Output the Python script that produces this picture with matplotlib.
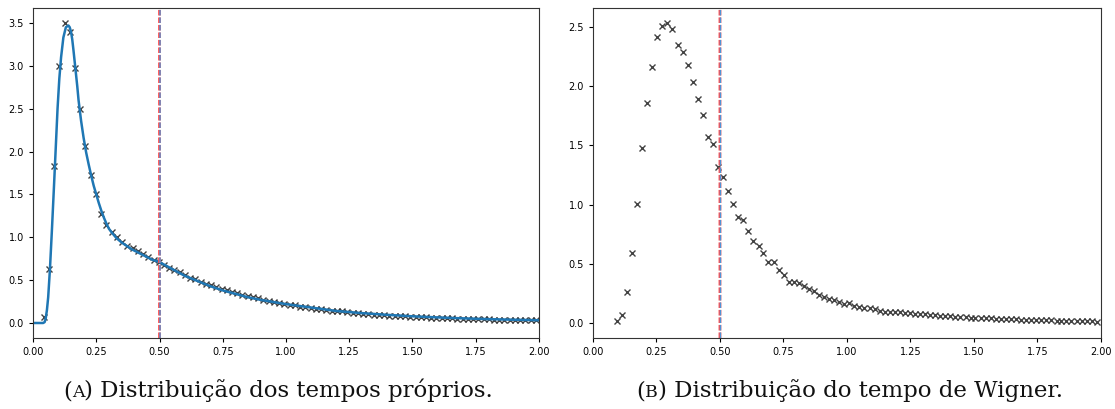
import matplotlib
matplotlib.use("Agg")
import matplotlib.pyplot as plt
import matplotlib.transforms as mtrans

# ---- Panel A: proper times distribution ----
a_x = [0.042, 0.063, 0.083, 0.104, 0.125, 0.145, 0.166, 0.187, 0.207, 0.228,
       0.249, 0.270, 0.290, 0.311, 0.332, 0.352, 0.373, 0.394, 0.414, 0.435,
       0.456, 0.477, 0.497, 0.518, 0.539, 0.559, 0.580, 0.601, 0.621, 0.642,
       0.663, 0.684, 0.704, 0.725, 0.746, 0.766, 0.787, 0.808, 0.828, 0.849,
       0.870, 0.891, 0.911, 0.932, 0.953, 0.973, 0.994, 1.015, 1.035, 1.056,
       1.077, 1.098, 1.118, 1.139, 1.160, 1.180, 1.201, 1.222, 1.242, 1.263,
       1.284, 1.305, 1.325, 1.346, 1.367, 1.387, 1.408, 1.429, 1.449, 1.470,
       1.491, 1.512, 1.532, 1.553, 1.574, 1.594, 1.615, 1.636, 1.656, 1.677,
       1.698, 1.719, 1.739, 1.760, 1.781, 1.801, 1.822, 1.843, 1.863, 1.884,
       1.905, 1.926, 1.946, 1.967, 1.988]
a_y = [0.07, 0.635, 1.83, 3.00, 3.50, 3.39, 2.97, 2.50, 2.07, 1.73,
       1.51, 1.27, 1.14, 1.06, 1.00, 0.95, 0.90, 0.87, 0.84, 0.80,
       0.77, 0.74, 0.71, 0.68, 0.64, 0.62, 0.60, 0.56, 0.53, 0.51,
       0.48, 0.46, 0.44, 0.42, 0.40, 0.38, 0.36, 0.345, 0.33, 0.31,
       0.30, 0.295, 0.27, 0.26, 0.245, 0.235, 0.225, 0.215, 0.205, 0.19,
       0.185, 0.175, 0.165, 0.158, 0.15, 0.143, 0.138, 0.135, 0.125, 0.118,
       0.113, 0.108, 0.104, 0.098, 0.094, 0.09, 0.086, 0.083, 0.079, 0.076,
       0.073, 0.07, 0.067, 0.065, 0.062, 0.06, 0.057, 0.055, 0.053, 0.051,
       0.049, 0.047, 0.046, 0.044, 0.043, 0.041, 0.04, 0.038, 0.037, 0.036,
       0.035, 0.034, 0.033, 0.032, 0.031]

fit_x = [0.0, 0.02, 0.04, 0.046, 0.05, 0.055, 0.06, 0.067, 0.075, 0.083,
         0.09, 0.097, 0.104, 0.111, 0.12, 0.13, 0.14, 0.145, 0.15, 0.155,
         0.16, 0.165, 0.17, 0.175, 0.18, 0.19, 0.20, 0.21, 0.22, 0.23,
         0.24, 0.25, 0.26, 0.27, 0.28, 0.29, 0.30, 0.31, 0.33, 0.35,
         0.37, 0.39, 0.41, 0.43, 0.45, 0.47, 0.50, 0.55, 0.60, 0.65,
         0.70, 0.75, 0.80, 0.85, 0.90, 0.95, 1.00, 1.10, 1.20, 1.30,
         1.40, 1.50, 1.60, 1.70, 1.80, 1.90, 2.00]
fit_y = [0.0, 0.0, 0.0, 0.01, 0.05, 0.15, 0.30, 0.63, 1.10, 1.60,
         2.05, 2.50, 2.85, 3.10, 3.33, 3.45, 3.47, 3.45, 3.40, 3.31,
         3.18, 3.04, 2.90, 2.76, 2.60, 2.36, 2.16, 1.99, 1.85, 1.72,
         1.60, 1.50, 1.40, 1.31, 1.23, 1.16, 1.10, 1.06, 0.99, 0.94,
         0.90, 0.86, 0.83, 0.80, 0.77, 0.74, 0.71, 0.63, 0.55, 0.49,
         0.43, 0.38, 0.34, 0.30, 0.27, 0.245, 0.22, 0.18, 0.14, 0.115,
         0.095, 0.078, 0.065, 0.054, 0.045, 0.038, 0.032]

# ---- Panel B: Wigner time distribution ----
b_x = [0.093, 0.113, 0.134, 0.154, 0.174, 0.194, 0.214, 0.233, 0.253, 0.273,
       0.293, 0.313, 0.333, 0.353, 0.373, 0.393, 0.412, 0.432, 0.452, 0.472,
       0.492, 0.512, 0.532, 0.552, 0.572, 0.592, 0.612, 0.632, 0.652, 0.671,
       0.691, 0.711, 0.731, 0.751, 0.771, 0.791, 0.811, 0.830, 0.850, 0.870,
       0.890, 0.910, 0.930, 0.950, 0.970, 0.990, 1.009, 1.029, 1.049, 1.069,
       1.089, 1.109, 1.129, 1.149, 1.169, 1.188, 1.208, 1.228, 1.248, 1.268,
       1.288, 1.308, 1.328, 1.347, 1.367, 1.387, 1.407, 1.427, 1.447, 1.467,
       1.487, 1.506, 1.526, 1.546, 1.566, 1.586, 1.606, 1.626, 1.646, 1.666,
       1.685, 1.705, 1.725, 1.745, 1.765, 1.785, 1.805, 1.825, 1.844, 1.864,
       1.884, 1.904, 1.924, 1.944, 1.964, 1.984]
b_y = [0.017, 0.068, 0.262, 0.589, 1.008, 1.478, 1.861, 2.16, 2.415, 2.508,
       2.534, 2.483, 2.348, 2.286, 2.176, 2.033, 1.895, 1.760, 1.566, 1.512,
       1.315, 1.231, 1.112, 1.008, 0.895, 0.870, 0.774, 0.696, 0.654, 0.591,
       0.515, 0.515, 0.451, 0.409, 0.345, 0.35, 0.34, 0.31, 0.29, 0.27,
       0.24, 0.215, 0.20, 0.19, 0.175, 0.16, 0.165, 0.14, 0.135, 0.13,
       0.13, 0.12, 0.105, 0.095, 0.09, 0.095, 0.09, 0.085, 0.08, 0.077,
       0.074, 0.072, 0.068, 0.064, 0.062, 0.058, 0.056, 0.054, 0.05, 0.048,
       0.046, 0.045, 0.042, 0.04, 0.038, 0.036, 0.035, 0.033, 0.031, 0.032,
       0.028, 0.027, 0.025, 0.024, 0.023, 0.022, 0.021, 0.02, 0.019, 0.018,
       0.017, 0.016, 0.015, 0.014, 0.013, 0.012]

x_ticks = [0.0, 0.25, 0.5, 0.75, 1.0, 1.25, 1.5, 1.75, 2.0]
a_yticks = [0.0, 0.5, 1.0, 1.5, 2.0, 2.5, 3.0, 3.5]
b_yticks = [0.0, 0.5, 1.0, 1.5, 2.0, 2.5]
vline_x = 0.5
caption_labels = ["A", "B"]
caption_texts = ["Distribuição dos tempos próprios.",
                 "Distribuição do tempo de Wigner."]

fig = plt.figure(figsize=(11.15, 4.09), dpi=100)
ax1 = fig.add_axes([0.0296, 0.1736, 0.4538, 0.807])
ax2 = fig.add_axes([0.5318, 0.1736, 0.4556, 0.807])

ax1.plot(a_x, a_y, 'x', color='#222222', markersize=5, alpha=0.85)
ax1.plot(fit_x, fit_y, '-', color='#1f77b4', lw=1.8)
ax2.plot(b_x, b_y, 'x', color='#222222', markersize=5, alpha=0.85)

for ax, yt in ((ax1, a_yticks), (ax2, b_yticks)):
    red = ax.axvline(vline_x, color='#ff4d4d', ls=(0, (2.0, 0.7)), lw=2.0)
    blue = ax.axvline(vline_x, color='#4d94d6', ls=(0, (4.0, 1.4)), lw=1.0)
    red.set_snap(False)
    blue.set_snap(False)
    blue.set_transform(blue.get_transform() + mtrans.ScaledTranslation(0.5 / 100, 0, fig.dpi_scale_trans))
    ax.set_xlim(0, 2)
    ax.set_xticks(x_ticks)
    ax.set_xticklabels(["%.2f" % t for t in x_ticks])
    ax.set_yticks(yt)
    ax.set_yticklabels(["%.1f" % t for t in yt])
    ax.tick_params(labelsize=7, length=3)
    for s in ax.spines.values():
        s.set_linewidth(0.8)
        s.set_color('#333333')

ax1.set_ylim(-0.175, 3.675)
ax2.set_ylim(-0.127, 2.66)

# captions with small-caps style label
fam = 'DejaVu Serif'
big, small = 16.5, 12.5
renderer = fig.canvas.get_renderer()
centers = [0.2493, 0.762]
for cx, lab, txt in zip(centers, caption_labels, caption_texts):
    pieces = [("(", big), (lab, small), (") " + txt, big)]
    objs = [fig.text(0, 0.029, p, fontsize=s, family=fam, va='baseline',
                     color='#111111') for p, s in pieces]
    widths = [o.get_window_extent(renderer).width for o in objs]
    total = sum(widths)
    x0 = cx * fig.bbox.width - total / 2
    for o, w in zip(objs, widths):
        o.set_x(x0 / fig.bbox.width)
        x0 += w

fig.savefig("out.png", dpi=100)
